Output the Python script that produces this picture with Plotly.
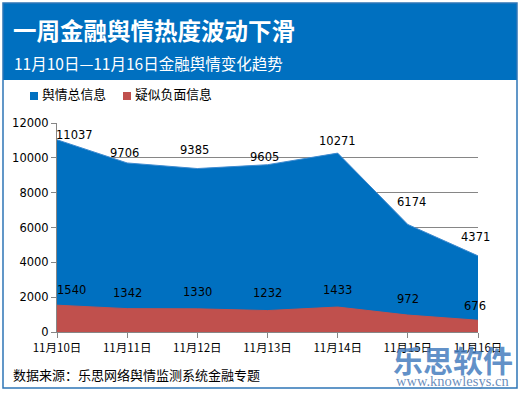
import plotly.graph_objects as go

categories = ["11月10日", "11月11日", "11月12日", "11月13日", "11月14日", "11月15日", "11月16日"]
total_info = [11037, 9706, 9385, 9605, 10271, 6174, 4371]
negative_info = [1540, 1342, 1330, 1232, 1433, 972, 676]
y_ticks = [0, 2000, 4000, 6000, 8000, 10000, 12000]
series_names = ["舆情总信息", "疑似负面信息"]

# label placement offsets (pixels), styling only
total_label_dy = [5, 10, 19, 8, 12, 22, 19]
total_label_dx = [17, -3, -3, -3, 0, 4, -3]
neg_label_dy = [15, 16, 17, 18, 17, 16, 14]
neg_label_dx = [14, 0, 0, 0, 0, 0, -3]

BLUE = "#0070C0"
RED = "#C0504D"
CJK = "Noto Sans CJK SC"
NUM = "DejaVu Sans"

L, R, T, B = 57, 44, 123, 62
PW, PH = 522 - L - R, 394 - T - B


def px(x):
    return (x - L) / PW


def py(y):
    return (394 - B - y) / PH


fig = go.Figure()
fig.add_trace(go.Scatter(
    x=categories, y=total_info, name=series_names[0], mode="lines", showlegend=False,
    fill="tozeroy", fillcolor=BLUE, line=dict(color="#3F8BD0", width=1),
))
fig.add_trace(go.Scatter(
    x=categories, y=negative_info, name=series_names[1], mode="lines", showlegend=False,
    fill="tozeroy", fillcolor=RED, line=dict(color=RED, width=1),
))

annotations = []
for cat, v, dx, dy in zip(categories, total_info, total_label_dx, total_label_dy):
    annotations.append(dict(x=cat, y=v, text=str(v), showarrow=False, xanchor="center",
                            yanchor="middle", xshift=dx, yshift=dy,
                            font=dict(family=NUM, size=11.5, color="#000")))
for cat, v, dx, dy in zip(categories, negative_info, neg_label_dx, neg_label_dy):
    annotations.append(dict(x=cat, y=v, text=str(v), showarrow=False, xanchor="center",
                            yanchor="middle", xshift=dx, yshift=dy,
                            font=dict(family=NUM, size=11.5, color="#000")))

shapes = [
    dict(type="rect", xref="paper", yref="paper", x0=px(3), x1=px(517),
         y0=py(80), y1=py(3), fillcolor=BLUE, line=dict(width=0), layer="below"),
    dict(type="rect", xref="paper", yref="paper", x0=px(3), x1=px(517),
         y0=py(388), y1=py(3), fillcolor="rgba(0,0,0,0)",
         line=dict(color="#2E75B6", width=1.5)),
]

# manual legend: square swatch + label
legend_x = [30, 123]
for nm, col, lx in zip(series_names, [BLUE, RED], legend_x):
    shapes.append(dict(type="rect", xref="paper", yref="paper", x0=px(lx), x1=px(lx + 8),
                       y0=py(100), y1=py(92), fillcolor=col, line=dict(width=0)))
    annotations.append(dict(text=nm, xref="paper", yref="paper", x=px(lx + 10), y=py(93.5),
                            xanchor="left", yanchor="middle", showarrow=False,
                            font=dict(family=CJK, size=12.8, color="#000")))

annotations += [
    dict(text="<b>一周金融舆情热度波动下滑</b>", xref="paper", yref="paper",
         x=px(11), y=py(30), xanchor="left", yanchor="middle", showarrow=False,
         font=dict(family=CJK, size=23.5, color="white")),
    dict(text="11月10日—11月16日金融舆情变化趋势", xref="paper", yref="paper",
         x=px(12), y=py(63), xanchor="left", yanchor="middle", showarrow=False,
         font=dict(family=CJK, size=15.5, color="white")),
    dict(text="数据来源：乐思网络舆情监测系统金融专题", xref="paper", yref="paper",
         x=px(11), y=py(374), xanchor="left", yanchor="middle", showarrow=False,
         font=dict(family=CJK, size=13, color="#000")),
    dict(text="<b>乐思软件</b>", xref="paper", yref="paper",
         x=px(453), y=py(359), xanchor="center", yanchor="middle", showarrow=False,
         font=dict(family=CJK, size=30, color="rgba(70,125,190,0.85)")),
    dict(text="www.knowlesys.cn", xref="paper", yref="paper",
         x=px(452), y=py(381), xanchor="center", yanchor="middle", showarrow=False,
         font=dict(family="Liberation Serif, DejaVu Serif", size=14.5, color="rgba(90,130,180,0.9)")),
]

fig.update_layout(
    width=522, height=394,
    margin=dict(l=L, r=R, t=T, b=B, autoexpand=False),
    paper_bgcolor="white", plot_bgcolor="white",
    showlegend=False,
    shapes=shapes, annotations=annotations,
    xaxis=dict(type="category", range=[0, 6], showgrid=False, showline=True,
               linecolor="#868686", linewidth=1, ticks="outside", ticklen=5, tickcolor="#868686",
               tickfont=dict(family=CJK, size=11.5, color="#000"), fixedrange=True,
               zeroline=False),
    yaxis=dict(range=[0, 12000], tickvals=y_ticks, tickformat="d", showgrid=True,
               gridcolor="#868686", gridwidth=1, showline=True, linecolor="#868686",
               ticks="outside", ticklen=5, tickcolor="#868686",
               tickfont=dict(family=NUM, size=11.5, color="#000"), zeroline=False),
)

fig.write_html("out.html", config={"displayModeBar": False},
               post_script="document.body.style.margin='0';")
